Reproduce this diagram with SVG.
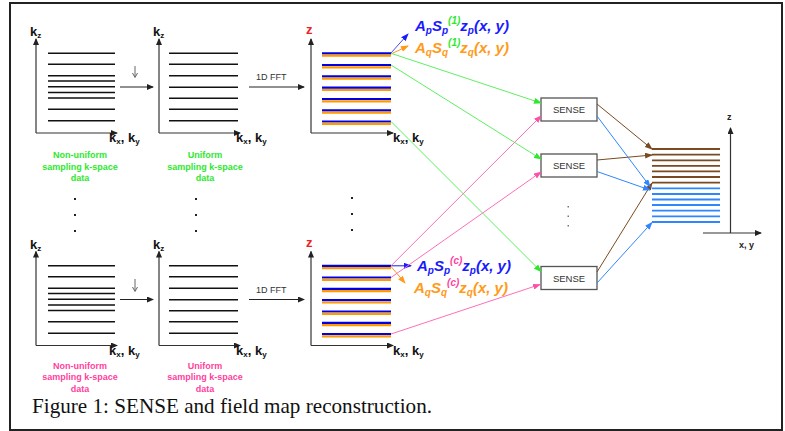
<svg xmlns="http://www.w3.org/2000/svg" xmlns:xlink="http://www.w3.org/1999/xlink" width="785" height="431" viewBox="0 0 785 431">
<style>
.ax{stroke:#333;stroke-width:1.2;fill:none}
.kl{stroke:#111;stroke-width:1.6}
.sb{stroke:#0000e6;stroke-width:2.2}
.so{stroke:#ff9a00;stroke-width:2.2}
.br{stroke:#7a4a20;stroke-width:1.8}
.bl{stroke:#2f86ff;stroke-width:1.8}
.lab{font-family:"Liberation Sans",Arial,sans-serif;font-weight:bold;fill:#111}
.cap{font-family:"Liberation Sans",Arial,sans-serif;font-weight:bold;font-size:9px;text-anchor:middle}
.g{fill:#2ee82e}
.pk{fill:#ff3f9e}
.fml{font-family:"Liberation Sans",Arial,sans-serif;font-weight:bold;font-style:italic;font-size:15px}
.sm{font-size:10px}
.box{fill:#fff;stroke:#555;stroke-width:1.3}
.bt{font-family:"Liberation Sans",Arial,sans-serif;font-size:9.5px;fill:#333;text-anchor:middle}
.dot{fill:#222}
.c{fill:none;stroke-width:1}
.da{fill:none;stroke:#666;stroke-width:1}
</style>
<defs>
<marker id="ak" markerWidth="7" markerHeight="6" refX="6" refY="3" orient="auto" markerUnits="userSpaceOnUse"><path d="M0,0L7,3L0,6z" fill="#222"/></marker>
<marker id="ag" markerWidth="8" markerHeight="6" refX="7" refY="3" orient="auto" markerUnits="userSpaceOnUse"><path d="M0,0L8,3L0,6z" fill="#2ee82e"/></marker>
<marker id="ap" markerWidth="8" markerHeight="6" refX="7" refY="3" orient="auto" markerUnits="userSpaceOnUse"><path d="M0,0L8,3L0,6z" fill="#ff4fa8"/></marker>
<marker id="ab" markerWidth="8" markerHeight="6" refX="7" refY="3" orient="auto" markerUnits="userSpaceOnUse"><path d="M0,0L8,3L0,6z" fill="#1a1aff"/></marker>
<marker id="ao" markerWidth="8" markerHeight="6" refX="7" refY="3" orient="auto" markerUnits="userSpaceOnUse"><path d="M0,0L8,3L0,6z" fill="#ff9a1a"/></marker>
<marker id="abr" markerWidth="8" markerHeight="6" refX="7" refY="3" orient="auto" markerUnits="userSpaceOnUse"><path d="M0,0L8,3L0,6z" fill="#7a4a20"/></marker>
<marker id="abl" markerWidth="8" markerHeight="6" refX="7" refY="3" orient="auto" markerUnits="userSpaceOnUse"><path d="M0,0L8,3L0,6z" fill="#2f86ff"/></marker>
<g id="nonuni">
<path class="ax" d="M36,133V39" marker-end="url(#ak)"/>
<path class="ax" d="M36,133H117" marker-end="url(#ak)"/>
<g class="kl"><path d="M48,53.3H115M48,64.3H115M48,75.8H115M48,81H115M48,86.8H115M48,92.5H115M48,98H115M48,109.3H115M48,120.7H115"/></g>
<text class="lab" x="30" y="36" font-size="13">k<tspan dy="2" font-size="8">z</tspan></text>
<text class="lab" x="109" y="142" font-size="13">k<tspan dy="2" font-size="8">x</tspan><tspan dy="-2">, k</tspan><tspan dy="2" font-size="8">y</tspan></text>
<path class="c" stroke="#222" d="M120,87H153" marker-end="url(#ak)"/>
</g>
<g id="uni">
<path class="ax" d="M159,133V39" marker-end="url(#ak)"/>
<path class="ax" d="M159,133H240" marker-end="url(#ak)"/>
<g class="kl"><path d="M169,53.3H238M169,64.3H238M169,75.8H238M169,87.3H238M169,98.3H238M169,109.3H238M169,120.7H238"/></g>
<text class="lab" x="153" y="36" font-size="13">k<tspan dy="2" font-size="8">z</tspan></text>
<text class="lab" x="236" y="142" font-size="13">k<tspan dy="2" font-size="8">x</tspan><tspan dy="-2">, k</tspan><tspan dy="2" font-size="8">y</tspan></text>
<path class="c" stroke="#222" d="M249,87H304" marker-end="url(#ak)"/>
<text x="256" y="80" font-family="Liberation Sans,Arial,sans-serif" font-size="9" fill="#333">1D FFT</text>
</g>
<g id="img">
<path class="ax" d="M311,133V39" marker-end="url(#ak)"/>
<path class="ax" d="M311,133H393" marker-end="url(#ak)"/>
<path class="sb" d="M322,53.3H391M322,65H391M322,76.3H391M322,87.7H391M322,99H391M322,110.3H391M322,121.5H391"/>
<path class="so" d="M322,55.6H391M322,67.3H391M322,78.6H391M322,90H391M322,101.3H391M322,112.6H391M322,123.8H391"/>
<text x="306" y="34" font-family="Liberation Sans,Arial,sans-serif" font-weight="bold" font-size="13" fill="#ee2222">z</text>
<text class="lab" x="393" y="142" font-size="13">k<tspan dy="2" font-size="8">x</tspan><tspan dy="-2">, k</tspan><tspan dy="2" font-size="8">y</tspan></text>
</g>
</defs>
<rect x="0" y="0" width="785" height="431" fill="#fff"/>
<rect x="10" y="3" width="772" height="427" fill="#fff" stroke="#222" stroke-width="2"/>

<g id="nonuniform-top">
<use xlink:href="#nonuni"/>
<path class="da" d="M135,66V77M132.5,73L135,77.5L137.5,73"/>
<text class="cap g" x="80" y="158">Non-uniform</text>
<text class="cap g" x="80" y="169.5">sampling k-space</text>
<text class="cap g" x="80" y="180.8">data</text>
</g>
<g id="uniform-top">
<use xlink:href="#uni"/>
<text class="cap g" x="205" y="158">Uniform</text>
<text class="cap g" x="205" y="169.5">sampling k-space</text>
<text class="cap g" x="205" y="180.8">data</text>
</g>
<g id="image-top"><use xlink:href="#img"/></g>

<g id="nonuniform-bottom">
<use xlink:href="#nonuni" transform="translate(0,212.5)"/>
<path class="da" d="M135,279V291M132.5,287L135,291.5L137.5,287"/>
<text class="cap pk" x="80" y="368.5">Non-uniform</text>
<text class="cap pk" x="80" y="380">sampling k-space</text>
<text class="cap pk" x="80" y="391.5">data</text>
</g>
<g id="uniform-bottom">
<use xlink:href="#uni" transform="translate(0,212.5)"/>
<text class="cap pk" x="205" y="368.5">Uniform</text>
<text class="cap pk" x="205" y="380">sampling k-space</text>
<text class="cap pk" x="205" y="391.5">data</text>
</g>
<g id="image-bottom"><use xlink:href="#img" transform="translate(0,212.5)"/></g>

<g id="dots">
<rect class="dot" x="74" y="198" width="2" height="2"/><rect class="dot" x="74" y="214" width="2" height="2"/><rect class="dot" x="74" y="230" width="2" height="2"/>
<rect class="dot" x="195" y="198" width="2" height="2"/><rect class="dot" x="195" y="214" width="2" height="2"/><rect class="dot" x="195" y="230" width="2" height="2"/>
<rect class="dot" x="351" y="197" width="2" height="2"/><rect class="dot" x="351" y="213" width="2" height="2"/><rect class="dot" x="351" y="229" width="2" height="2"/>
<rect x="567.5" y="206" width="1.5" height="1.5" fill="#777"/><rect x="567.5" y="215.5" width="1.5" height="1.5" fill="#777"/><rect x="567.5" y="225" width="1.5" height="1.5" fill="#777"/>
</g>

<g id="formulas">
<text class="fml" x="415" y="31" fill="#1a1aff">A<tspan class="sm" dy="3">p</tspan><tspan dy="-3">S</tspan><tspan class="sm" dy="3">p</tspan><tspan class="sm" dy="-10" fill="#2ee82e">(1)</tspan><tspan dy="7">z</tspan><tspan class="sm" dy="3">p</tspan><tspan dy="-3">(x, y)</tspan></text>
<text class="fml" x="415" y="53" fill="#ff9a1a">A<tspan class="sm" dy="3">q</tspan><tspan dy="-3">S</tspan><tspan class="sm" dy="3">q</tspan><tspan class="sm" dy="-10" fill="#2ee82e">(1)</tspan><tspan dy="7">z</tspan><tspan class="sm" dy="3">q</tspan><tspan dy="-3">(x, y)</tspan></text>
<text class="fml" x="417" y="271" fill="#1a1aff">A<tspan class="sm" dy="3">p</tspan><tspan dy="-3">S</tspan><tspan class="sm" dy="3">p</tspan><tspan class="sm" dy="-10" fill="#ff3f9e">(c)</tspan><tspan dy="7">z</tspan><tspan class="sm" dy="3">p</tspan><tspan dy="-3">(x, y)</tspan></text>
<text class="fml" x="414" y="293" fill="#ff9a1a">A<tspan class="sm" dy="3">q</tspan><tspan dy="-3">S</tspan><tspan class="sm" dy="3">q</tspan><tspan class="sm" dy="-10" fill="#ff3f9e">(c)</tspan><tspan dy="7">z</tspan><tspan class="sm" dy="3">q</tspan><tspan dy="-3">(x, y)</tspan></text>
</g>

<g id="sense-1"><rect class="box" x="541" y="98" width="56" height="23"/><text class="bt" x="569" y="113">SENSE</text></g>
<g id="sense-2"><rect class="box" x="541" y="154" width="56" height="23"/><text class="bt" x="569" y="169">SENSE</text></g>
<g id="sense-3"><rect class="box" x="541" y="266.5" width="56" height="23"/><text class="bt" x="569" y="281.5">SENSE</text></g>

<g id="result">
<path class="br" d="M652,149H720M652,154.7H720M652,160.3H720M652,165.8H720M652,171.3H720M652,177H720M652,182.7H720"/>
<path class="bl" d="M652,188.3H720M652,194H720M652,199.5H720M652,205H720M652,210.7H720M652,216.3H720M652,222H720"/>
<path class="ax" d="M730.5,233V128" marker-end="url(#ak)"/>
<path class="ax" d="M703,233H761" marker-end="url(#ak)"/>
<text x="727" y="120" font-family="Liberation Sans,Arial,sans-serif" font-weight="bold" font-size="9" fill="#222">z</text>
<text x="739" y="248" font-family="Liberation Sans,Arial,sans-serif" font-weight="bold" font-size="9" fill="#222">x, y</text>
</g>

<g id="connectors">
<path class="c" stroke="#4a4aff" d="M391,53L408,34" marker-end="url(#ab)"/>
<path class="c" stroke="#ff9a1a" d="M391,54L408,46" marker-end="url(#ao)"/>
<path class="c" stroke="#1a1aff" d="M391,265.8H411" marker-end="url(#ab)"/>
<path class="c" stroke="#ff9a1a" d="M391,266.5L405,283" marker-end="url(#ao)"/>
<path class="c" stroke="#5ef05e" d="M391,53.3L541,103" marker-end="url(#ag)"/>
<path class="c" stroke="#5ef05e" d="M391,65L541,159" marker-end="url(#ag)"/>
<path class="c" stroke="#5ef05e" d="M391,121.5L541,271.5" marker-end="url(#ag)"/>
<path class="c" stroke="#ff6fb8" d="M391,265.8L541,116" marker-end="url(#ap)"/>
<path class="c" stroke="#ff6fb8" d="M391,277.5L541,172" marker-end="url(#ap)"/>
<path class="c" stroke="#ff6fb8" d="M391,334L540,284.5" marker-end="url(#ap)"/>
<path class="c" stroke="#7a4a20" d="M597,104L652,149" marker-end="url(#abr)"/>
<path class="c" stroke="#7a4a20" d="M597,160L652,155" marker-end="url(#abr)"/>
<path class="c" stroke="#7a4a20" d="M597,272L652,183" marker-end="url(#abr)"/>
<path class="c" stroke="#2f86ff" d="M597,116L650,186.5" marker-end="url(#abl)"/>
<path class="c" stroke="#2f86ff" d="M597,171.5L650,190" marker-end="url(#abl)"/>
<path class="c" stroke="#2f86ff" d="M597,283L652,222.5" marker-end="url(#abl)"/>
</g>

<text x="32" y="413" font-family="Liberation Serif,Times New Roman,serif" font-size="21" textLength="400" lengthAdjust="spacingAndGlyphs" fill="#111">Figure 1: SENSE and field map reconstruction.</text>
</svg>
